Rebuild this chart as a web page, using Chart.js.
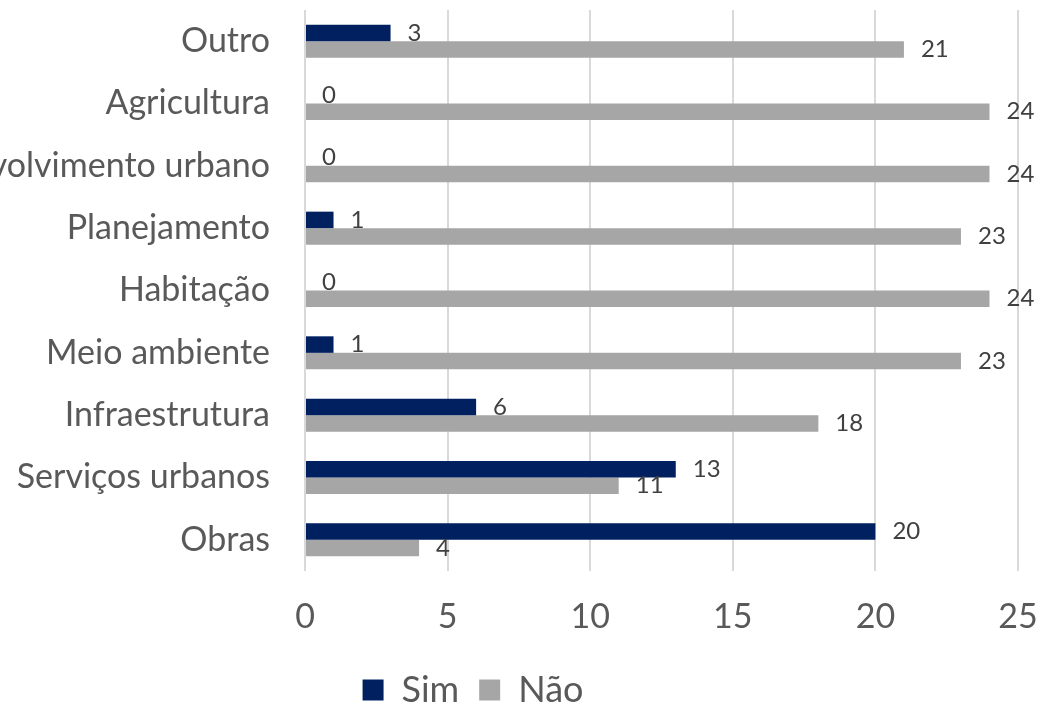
<!DOCTYPE html>
<html>
<head>
<meta charset="utf-8">
<script src="https://cdn.jsdelivr.net/npm/chart.js@4"></script>
<style>
  html, body { margin: 0; padding: 0; background: #fff; }
  #wrap { width: 1041px; height: 702px; position: relative; }
</style>
</head>
<body>
<div id="wrap"><canvas id="chart"></canvas></div>
<script>
const categories = ['Outro', 'Agricultura', 'Desenvolvimento urbano', 'Planejamento', 'Habitação', 'Meio ambiente', 'Infraestrutura', 'Serviços urbanos', 'Obras'];
const simValues = [3, 0, 0, 1, 0, 1, 6, 13, 20];
const naoValues = [21, 24, 24, 23, 24, 23, 18, 11, 4];
const xTicks = [0, 5, 10, 15, 20, 25];

const FONT = 'Lato, "Noto Sans", sans-serif';

// value labels just right of each bar end
const valueLabels = {
    id: 'valueLabels',
    afterDatasetsDraw(chart) {
        const ctx = chart.ctx;
        ctx.save();
        ctx.font = '24px ' + FONT;
        ctx.fillStyle = '#404040';
        ctx.textAlign = 'left';
        ctx.textBaseline = 'middle';
        chart.data.datasets.forEach((ds, i) => {
            const meta = chart.getDatasetMeta(i);
            meta.data.forEach((bar, j) => {
                ctx.fillText(String(ds.data[j]), bar.x + 17, bar.y);
            });
        });
        ctx.restore();
    }
};

// legend sits a bit left of the canvas centre in the original
const legendShift = {
    id: 'legendShift',
    afterLayout(chart) {
        chart.legend.left -= 36;
        chart.legend.right -= 36;
    }
};

new Chart(document.getElementById('chart'), {
    type: 'bar',
    data: {
        labels: categories,
        datasets: [
            { label: 'Sim', data: simValues, backgroundColor: '#002060', categoryPercentage: 0.53, barPercentage: 1 },
            { label: 'Não', data: naoValues, backgroundColor: '#A6A6A6', categoryPercentage: 0.53, barPercentage: 1 }
        ]
    },
    options: {
        indexAxis: 'y',
        responsive: true,
        maintainAspectRatio: false,
        animation: false,
        layout: { padding: { top: 10, right: 23, bottom: -16, left: 0 } },
        scales: {
            x: {
                min: 0,
                max: 25,
                afterBuildTicks: s => { s.ticks = xTicks.map(v => ({ value: v })); },
                afterFit: s => { s.height = 81; s.paddingLeft = 0; s.paddingRight = 0; },
                grid: { color: '#D9D9D9', lineWidth: 2, drawTicks: false },
                border: { display: false },
                ticks: { color: '#595959', font: { family: FONT, size: 34 }, padding: 26 }
            },
            y: {
                afterFit: s => { s.width = 305; s.paddingTop = 0; s.paddingBottom = 0; },
                grid: { display: false },
                border: { display: false },
                ticks: { color: '#595959', font: { family: FONT, size: 34 }, padding: 27 }
            }
        },
        plugins: {
            legend: {
                position: 'bottom',
                labels: {
                    color: '#595959',
                    font: { family: FONT, size: 36 },
                    boxWidth: 21,
                    boxHeight: 21,
                    padding: 20
                }
            },
            tooltip: { enabled: false }
        }
    },
    plugins: [valueLabels, legendShift]
});
</script>
</body>
</html>
